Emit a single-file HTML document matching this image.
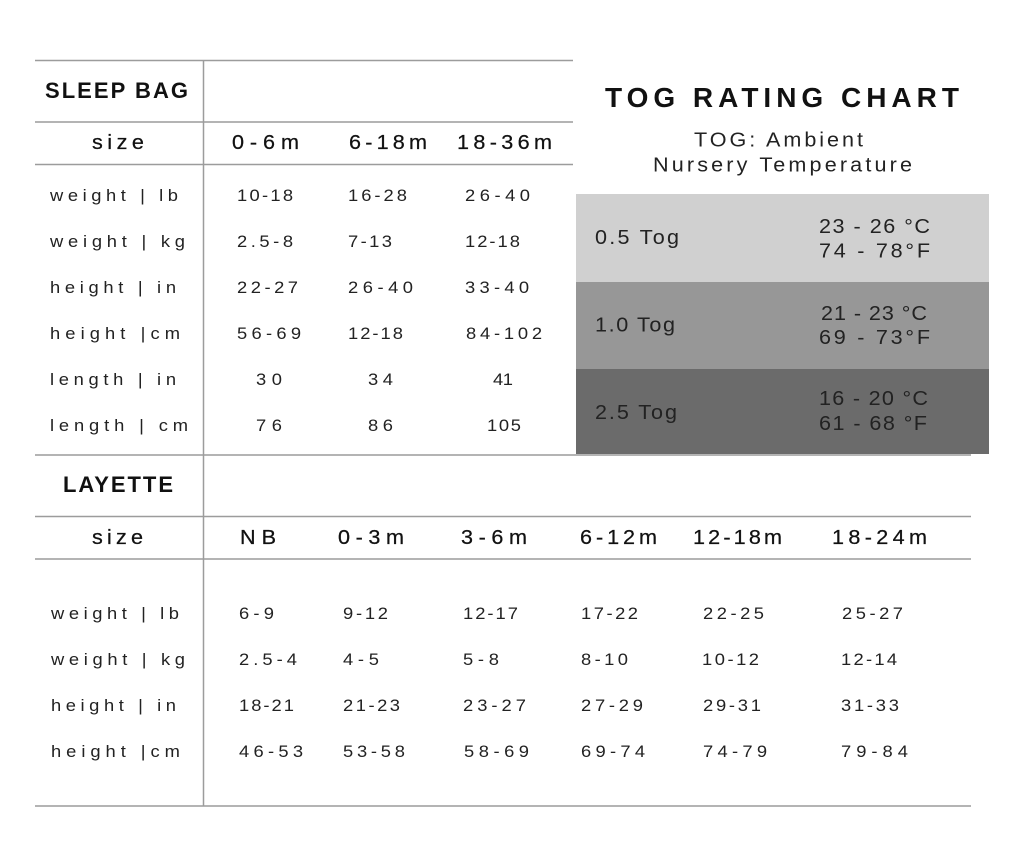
<!DOCTYPE html>
<html>
<head>
<meta charset="utf-8">
<style>
  html,body{margin:0;padding:0;background:#fff;}
  svg{display:block;}
  text{font-family:"Liberation Sans", sans-serif;}
  .lbl{font-size:17px;fill:#222;}
  .val{font-size:17px;fill:#222;}
  .hdr{font-size:20px;fill:#111;stroke:#111;stroke-width:0.25px;}
  .ttl{font-size:22px;font-weight:bold;fill:#111;}
  .box{font-size:20px;fill:#222;}
</style>
</head>
<body>
<svg width="1024" height="853" viewBox="0 0 1024 853" xmlns="http://www.w3.org/2000/svg">
  <rect x="0" y="0" width="1024" height="853" fill="#fff"/>

  <!-- Tog boxes -->
  <rect x="576" y="194" width="413" height="88" fill="#d0d0d0"/>
  <rect x="576" y="282" width="413" height="87" fill="#979797"/>
  <rect x="576" y="369" width="413" height="85" fill="#6b6b6b"/>

  <!-- lines -->
  <g stroke="#9c9c9c" stroke-width="1.5" fill="none">
    <line x1="35" y1="60.5" x2="573" y2="60.5"/>
    <line x1="35" y1="122" x2="573" y2="122"/>
    <line x1="35" y1="164.5" x2="573" y2="164.5"/>
    <line x1="35" y1="455" x2="971" y2="455"/>
    <line x1="35" y1="516.5" x2="971" y2="516.5"/>
    <line x1="35" y1="559" x2="971" y2="559"/>
    <line x1="35" y1="806" x2="971" y2="806"/>
    <line x1="203.5" y1="60" x2="203.5" y2="806"/>
  </g>

  <!-- SLEEP BAG -->
  <text class="ttl" x="45" y="98" textLength="143" lengthAdjust="spacing">SLEEP BAG</text>
  <text class="hdr" transform="translate(92 149) scale(1.08 1)" textLength="48.1" lengthAdjust="spacing">size</text>
  <text class="hdr" transform="translate(232 149) scale(1.08 1)" textLength="62" lengthAdjust="spacing">0-6m</text>
  <text class="hdr" transform="translate(349 149) scale(1.08 1)" textLength="72.2" lengthAdjust="spacing">6-18m</text>
  <text class="hdr" transform="translate(457 149) scale(1.08 1)" textLength="88" lengthAdjust="spacing">18-36m</text>

  <text class="lbl" transform="translate(50 201) scale(1.08 1)" textLength="118.5" lengthAdjust="spacing">weight | lb</text>
  <text class="lbl" transform="translate(50 247) scale(1.08 1)" textLength="125" lengthAdjust="spacing">weight | kg</text>
  <text class="lbl" transform="translate(50 293) scale(1.08 1)" textLength="116.7" lengthAdjust="spacing">height | in</text>
  <text class="lbl" transform="translate(50 339) scale(1.08 1)" textLength="120.4" lengthAdjust="spacing">height |cm</text>
  <text class="lbl" transform="translate(50 385) scale(1.08 1)" textLength="116.7" lengthAdjust="spacing">length | in</text>
  <text class="lbl" transform="translate(50 431) scale(1.08 1)" textLength="127.8" lengthAdjust="spacing">length | cm</text>

  <text class="val" transform="translate(237 201) scale(1.08 1)" textLength="51.9" lengthAdjust="spacing">10-18</text>
  <text class="val" transform="translate(348 201) scale(1.08 1)" textLength="54.6" lengthAdjust="spacing">16-28</text>
  <text class="val" transform="translate(465 201) scale(1.08 1)" textLength="60.2" lengthAdjust="spacing">26-40</text>

  <text class="val" transform="translate(237 247) scale(1.08 1)" textLength="51.9" lengthAdjust="spacing">2.5-8</text>
  <text class="val" transform="translate(348 247) scale(1.08 1)" textLength="40.7" lengthAdjust="spacing">7-13</text>
  <text class="val" transform="translate(465 247) scale(1.08 1)" textLength="50.9" lengthAdjust="spacing">12-18</text>

  <text class="val" transform="translate(237 293) scale(1.08 1)" textLength="56.5" lengthAdjust="spacing">22-27</text>
  <text class="val" transform="translate(348 293) scale(1.08 1)" textLength="60.2" lengthAdjust="spacing">26-40</text>
  <text class="val" transform="translate(465 293) scale(1.08 1)" textLength="59.3" lengthAdjust="spacing">33-40</text>

  <text class="val" transform="translate(237 339) scale(1.08 1)" textLength="59.3" lengthAdjust="spacing">56-69</text>
  <text class="val" transform="translate(348 339) scale(1.08 1)" textLength="50.9" lengthAdjust="spacing">12-18</text>
  <text class="val" transform="translate(466 339) scale(1.08 1)" textLength="70.4" lengthAdjust="spacing">84-102</text>

  <text class="val" transform="translate(256 385) scale(1.08 1)" textLength="24.1" lengthAdjust="spacing">30</text>
  <text class="val" transform="translate(368 385) scale(1.08 1)" textLength="23.1" lengthAdjust="spacing">34</text>
  <text class="val" transform="translate(493 385) scale(1.08 1)" textLength="18.5" lengthAdjust="spacing">41</text>

  <text class="val" transform="translate(256 431) scale(1.08 1)" textLength="24.1" lengthAdjust="spacing">76</text>
  <text class="val" transform="translate(368 431) scale(1.08 1)" textLength="23.1" lengthAdjust="spacing">86</text>
  <text class="val" transform="translate(487 431) scale(1.08 1)" textLength="31.5" lengthAdjust="spacing">105</text>

  <!-- TOG chart -->
  <text x="605" y="107" font-size="28" font-weight="bold" fill="#111" textLength="354" lengthAdjust="spacing">TOG RATING CHART</text>
  <text transform="translate(694 146.5) scale(1.08 1)" font-size="20" fill="#222" textLength="156.5" lengthAdjust="spacing">TOG: Ambient</text>
  <text transform="translate(653 171.5) scale(1.08 1)" font-size="20" fill="#222" textLength="239.8" lengthAdjust="spacing">Nursery Temperature</text>

  <text class="box" transform="translate(595 244) scale(1.08 1)" textLength="77.8" lengthAdjust="spacing">0.5 Tog</text>
  <text class="box" transform="translate(819 233) scale(1.08 1)" textLength="102.8" lengthAdjust="spacing">23 - 26 °C</text>
  <text class="box" transform="translate(819 257.5) scale(1.08 1)" textLength="102.8" lengthAdjust="spacing">74 - 78°F</text>

  <text class="box" transform="translate(595 331.5) scale(1.08 1)" textLength="74.1" lengthAdjust="spacing">1.0 Tog</text>
  <text class="box" transform="translate(821 320) scale(1.08 1)" textLength="98.1" lengthAdjust="spacing">21 - 23 °C</text>
  <text class="box" transform="translate(819 344) scale(1.08 1)" textLength="102.8" lengthAdjust="spacing">69 - 73°F</text>

  <text class="box" transform="translate(595 419) scale(1.08 1)" textLength="75.9" lengthAdjust="spacing">2.5 Tog</text>
  <text class="box" transform="translate(819 405) scale(1.08 1)" textLength="100.9" lengthAdjust="spacing">16 - 20 °C</text>
  <text class="box" transform="translate(819 430) scale(1.08 1)" textLength="100" lengthAdjust="spacing">61 - 68 °F</text>

  <!-- LAYETTE -->
  <text class="ttl" x="63" y="492" textLength="110" lengthAdjust="spacing">LAYETTE</text>
  <text class="hdr" transform="translate(92 544) scale(1.08 1)" textLength="47.2" lengthAdjust="spacing">size</text>
  <text class="hdr" transform="translate(240 544) scale(1.08 1)" textLength="33.3" lengthAdjust="spacing">NB</text>
  <text class="hdr" transform="translate(338 544) scale(1.08 1)" textLength="61.1" lengthAdjust="spacing">0-3m</text>
  <text class="hdr" transform="translate(461 544) scale(1.08 1)" textLength="61.1" lengthAdjust="spacing">3-6m</text>
  <text class="hdr" transform="translate(580 544) scale(1.08 1)" textLength="71.3" lengthAdjust="spacing">6-12m</text>
  <text class="hdr" transform="translate(693 544) scale(1.08 1)" textLength="82.4" lengthAdjust="spacing">12-18m</text>
  <text class="hdr" transform="translate(832 544) scale(1.08 1)" textLength="88" lengthAdjust="spacing">18-24m</text>

  <text class="lbl" transform="translate(51 619) scale(1.08 1)" textLength="118.5" lengthAdjust="spacing">weight | lb</text>
  <text class="lbl" transform="translate(51 665) scale(1.08 1)" textLength="124.1" lengthAdjust="spacing">weight | kg</text>
  <text class="lbl" transform="translate(51 711) scale(1.08 1)" textLength="115.7" lengthAdjust="spacing">height | in</text>
  <text class="lbl" transform="translate(51 757) scale(1.08 1)" textLength="119.4" lengthAdjust="spacing">height |cm</text>

  <text class="val" transform="translate(239 619) scale(1.08 1)" textLength="32.4" lengthAdjust="spacing">6-9</text>
  <text class="val" transform="translate(343 619) scale(1.08 1)" textLength="41.7" lengthAdjust="spacing">9-12</text>
  <text class="val" transform="translate(463 619) scale(1.08 1)" textLength="50.9" lengthAdjust="spacing">12-17</text>
  <text class="val" transform="translate(581 619) scale(1.08 1)" textLength="52.8" lengthAdjust="spacing">17-22</text>
  <text class="val" transform="translate(703 619) scale(1.08 1)" textLength="56.5" lengthAdjust="spacing">22-25</text>
  <text class="val" transform="translate(842 619) scale(1.08 1)" textLength="56.5" lengthAdjust="spacing">25-27</text>

  <text class="val" transform="translate(239 665) scale(1.08 1)" textLength="53.7" lengthAdjust="spacing">2.5-4</text>
  <text class="val" transform="translate(343 665) scale(1.08 1)" textLength="33.3" lengthAdjust="spacing">4-5</text>
  <text class="val" transform="translate(463 665) scale(1.08 1)" textLength="33.3" lengthAdjust="spacing">5-8</text>
  <text class="val" transform="translate(581 665) scale(1.08 1)" textLength="43.5" lengthAdjust="spacing">8-10</text>
  <text class="val" transform="translate(702 665) scale(1.08 1)" textLength="52.8" lengthAdjust="spacing">10-12</text>
  <text class="val" transform="translate(841 665) scale(1.08 1)" textLength="51.9" lengthAdjust="spacing">12-14</text>

  <text class="val" transform="translate(239 711) scale(1.08 1)" textLength="50.9" lengthAdjust="spacing">18-21</text>
  <text class="val" transform="translate(343 711) scale(1.08 1)" textLength="52.8" lengthAdjust="spacing">21-23</text>
  <text class="val" transform="translate(463 711) scale(1.08 1)" textLength="58.3" lengthAdjust="spacing">23-27</text>
  <text class="val" transform="translate(581 711) scale(1.08 1)" textLength="57.4" lengthAdjust="spacing">27-29</text>
  <text class="val" transform="translate(703 711) scale(1.08 1)" textLength="53.7" lengthAdjust="spacing">29-31</text>
  <text class="val" transform="translate(841 711) scale(1.08 1)" textLength="53.7" lengthAdjust="spacing">31-33</text>

  <text class="val" transform="translate(239 757) scale(1.08 1)" textLength="59.3" lengthAdjust="spacing">46-53</text>
  <text class="val" transform="translate(343 757) scale(1.08 1)" textLength="57.4" lengthAdjust="spacing">53-58</text>
  <text class="val" transform="translate(464 757) scale(1.08 1)" textLength="60.2" lengthAdjust="spacing">58-69</text>
  <text class="val" transform="translate(581 757) scale(1.08 1)" textLength="59.3" lengthAdjust="spacing">69-74</text>
  <text class="val" transform="translate(703 757) scale(1.08 1)" textLength="59.3" lengthAdjust="spacing">74-79</text>
  <text class="val" transform="translate(841 757) scale(1.08 1)" textLength="62" lengthAdjust="spacing">79-84</text>
</svg>
</body>
</html>
